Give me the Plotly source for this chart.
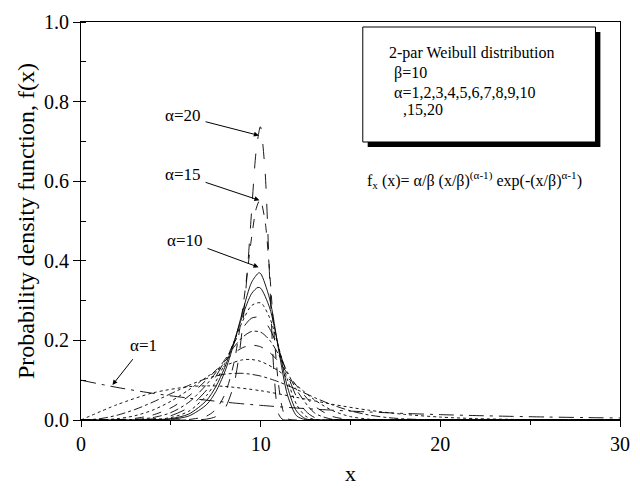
import plotly.graph_objects as go

# ---------------- data ----------------
x_a1 = [0, 2, 4, 6, 8, 10, 12, 14, 16, 18, 20, 22, 24, 26, 28, 30]
y_a1 = [0.1, 0.0819, 0.0670, 0.0549, 0.0449, 0.0368, 0.0301, 0.0247, 0.0202,
        0.0165, 0.0135, 0.0111, 0.0091, 0.0074, 0.0061, 0.0050]

x_a2 = [0, 2, 4, 6, 7, 8, 10, 12, 14, 16, 18, 20, 22, 24, 26, 28, 30]
y_a2 = [0, 0.0384, 0.0682, 0.0837, 0.0858, 0.0844, 0.0736, 0.0569, 0.0394,
        0.0247, 0.0141, 0.0073, 0.0035, 0.0015, 0.0006, 0.0002, 0.0001]

x_a3 = [0, 1, 2, 3, 4, 5, 6, 7, 8, 9, 10, 11, 12, 13, 14, 15, 16, 17, 18, 19, 20, 22, 26, 30]
y_a3 = [0, 0.0030, 0.0119, 0.0263, 0.0450, 0.0662, 0.0870, 0.1043, 0.1151, 0.1172,
        0.1104, 0.0959, 0.0767, 0.0563, 0.0378, 0.0231, 0.0128, 0.0064, 0.0028,
        0.0011, 0.0004, 0, 0, 0]

x_a4 = [0, 1, 2, 3, 4, 5, 6, 7, 8, 9, 9.5, 10, 11, 12, 13, 14, 15, 16, 17, 18, 20, 25, 30]
y_a4 = [0, 0.0004, 0.0032, 0.0107, 0.0250, 0.0470, 0.0759, 0.1079, 0.1360, 0.1513,
        0.1519, 0.1472, 0.1232, 0.0869, 0.0505, 0.0236, 0.0085, 0.0023, 0.0005,
        0.0001, 0, 0, 0]

x_a5 = [0, 2, 3, 4, 5, 6, 7, 8, 8.5, 9, 9.5, 10, 10.5, 11, 12, 13, 14, 15, 16, 18, 20, 25, 30]
y_a5 = [0, 0.0008, 0.0040, 0.0127, 0.0303, 0.0600, 0.1015, 0.1476, 0.1675, 0.1818,
        0.1879, 0.1839, 0.1696, 0.1463, 0.0861, 0.0349, 0.0089, 0.0013, 0.0001,
        0, 0, 0, 0]

x_a6 = [0, 2, 3, 4, 5, 6, 7, 7.5, 8, 8.5, 9, 9.5, 10, 10.5, 11, 11.5, 12, 13, 14, 15, 16, 20, 25, 30]
y_a6 = [0, 0.0002, 0.0015, 0.0061, 0.0185, 0.0445, 0.0897, 0.1192, 0.1513, 0.1826,
        0.2083, 0.2226, 0.2207, 0.2006, 0.1644, 0.1195, 0.0754, 0.0178, 0.0017,
        0.0001, 0, 0, 0, 0]

x_a7 = [0, 3, 4, 5, 6, 7, 7.5, 8, 8.5, 9, 9.5, 10, 10.5, 11, 11.5, 12, 12.5, 13, 14, 15, 20, 25, 30]
y_a7 = [0, 0.0005, 0.0029, 0.0109, 0.0318, 0.0758, 0.1090, 0.1488, 0.1916, 0.2306,
        0.2560, 0.2575, 0.2297, 0.1766, 0.1132, 0.0581, 0.0227, 0.0064, 0.0001,
        0, 0, 0, 0]

x_a8 = [0, 3, 4, 5, 6, 7, 7.5, 8, 8.5, 9, 9.5, 10, 10.5, 11, 11.5, 12, 12.5, 13, 14, 15, 20, 25, 30]
y_a8 = [0, 0.0002, 0.0013, 0.0062, 0.0220, 0.0622, 0.0966, 0.1419, 0.1953, 0.2488,
        0.2878, 0.2943, 0.2569, 0.1827, 0.0999, 0.0389, 0.0098, 0.0014, 0,
        0, 0, 0, 0]

x_a9 = [0, 4, 5, 6, 7, 7.5, 8, 8.5, 9, 9.5, 9.85, 10, 10.5, 11, 11.5, 12, 12.5, 13, 14, 15, 20, 25, 30]
y_a9 = [0, 0.0006, 0.0035, 0.0150, 0.0498, 0.0836, 0.1320, 0.1946, 0.2630, 0.3180,
        0.3332, 0.3311, 0.2819, 0.1826, 0.0817, 0.0222, 0.0031, 0.0002, 0,
        0, 0, 0, 0]

x_a10 = [0, 4, 5, 6, 7, 7.5, 8, 8.5, 9, 9.5, 9.9, 10, 10.5, 11, 11.5, 12, 12.5, 13, 14, 15, 20, 25, 30]
y_a10 = [0, 0.0003, 0.0020, 0.0100, 0.0392, 0.0710, 0.1206, 0.1902, 0.2734, 0.3463,
         0.3698, 0.3679, 0.3044, 0.1763, 0.0616, 0.0106, 0.0007, 0, 0,
         0, 0, 0, 0]

x_a15 = [0, 5, 6, 7, 7.5, 8, 8.5, 9, 9.25, 9.5, 9.75, 9.95, 10, 10.25, 10.5, 10.75,
         11, 11.25, 11.5, 12, 15, 20, 25, 30]
y_a15 = [0, 0.0001, 0.0012, 0.0101, 0.0264, 0.0637, 0.1413, 0.2793, 0.3692, 0.4603,
         0.5310, 0.5530, 0.5518, 0.4981, 0.3715, 0.2142, 0.0874, 0.0224, 0.0031,
         0, 0, 0, 0, 0]

x_a20 = [0, 6, 7, 7.5, 8, 8.5, 8.75, 9, 9.25, 9.5, 9.75, 9.975, 10, 10.25, 10.5, 10.75,
         11, 11.25, 11.5, 12, 15, 20, 25, 30]
y_a20 = [0, 0.0001, 0.0023, 0.0085, 0.0285, 0.0877, 0.1477, 0.2392, 0.3684, 0.5273,
         0.6766, 0.7366, 0.7358, 0.6213, 0.3558, 0.1130, 0.0146, 0.0005, 0,
         0, 0, 0, 0, 0]

alphas = [1, 2, 3, 4, 5, 6, 7, 8, 9, 10, 15, 20]
xs = [x_a1, x_a2, x_a3, x_a4, x_a5, x_a6, x_a7, x_a8, x_a9, x_a10, x_a15, x_a20]
ys = [y_a1, y_a2, y_a3, y_a4, y_a5, y_a6, y_a7, y_a8, y_a9, y_a10, y_a15, y_a20]
dashes = ["longdashdot", "dot", "dashdot", "dot", "dash", "dashdot",
          "longdash", "dot", "solid", "solid", "dash", "longdash"]

x_ticks = [0, 10, 20, 30]
y_ticks = [0.0, 0.2, 0.4, 0.6, 0.8, 1.0]

# label text, label position, arrow head
curve_labels = ["α=20", "α=15", "α=10", "α=1"]
label_pos = [(5.68, 0.764), (5.68, 0.616), (5.79, 0.452), (3.5, 0.188)]
arrow_head = [(9.9, 0.715), (9.93, 0.552), (9.88, 0.384), (1.75, 0.088)]

FONT = "Liberation Serif, Times New Roman, serif"

fig = go.Figure()
for a, x, y, d in zip(alphas, xs, ys, dashes):
    fig.add_trace(go.Scatter(
        x=x, y=y, mode="lines", name=f"α={a}",
        line=dict(color="black", width=0.9, dash=d, shape="spline", smoothing=0.8),
        showlegend=False, hoverinfo="skip"))

annotations = []
for t, (lx, ly), (hx, hy) in zip(curve_labels, label_pos, arrow_head):
    annotations.append(dict(x=hx, y=hy, ax=lx, ay=ly, xref="x", yref="y",
                            axref="x", ayref="y", text=t, showarrow=True,
                            arrowhead=2, arrowsize=1, arrowwidth=1, arrowcolor="black",
                            borderpad=4,
                            font=dict(family=FONT, size=17, color="black")))

box_lines = [("2-par Weibull distribution", 0.568, 0.922),
             ("β=10", 0.577, 0.872),
             ("α=1,2,3,4,5,6,7,8,9,10", 0.577, 0.824),
             (",15,20", 0.594, 0.779)]
for t, bx, by in box_lines:
    annotations.append(dict(x=bx, y=by, xref="paper", yref="paper", text=t,
                            showarrow=False, xanchor="left", yanchor="middle",
                            font=dict(family=FONT, size=16, color="black")))

annotations.append(dict(
    x=0.526, y=0.603, xref="paper", yref="paper", showarrow=False,
    xanchor="left", yanchor="middle",
    text="f<sub>x</sub> (x)= α/β (x/β)<sup>(α-1)</sup> exp(-(x/β)<sup>α-1</sup>)",
    font=dict(family=FONT, size=16, color="black")))

# axis titles
annotations.append(dict(x=-0.102, y=0.5, xref="paper", yref="paper", showarrow=False,
                        text="Probability density function, f(x)", textangle=-90,
                        xanchor="center", yanchor="middle",
                        font=dict(family=FONT, size=24, color="black")))
annotations.append(dict(x=0.5, y=-0.135, xref="paper", yref="paper", showarrow=False,
                        text="x", xanchor="center", yanchor="middle",
                        font=dict(family=FONT, size=22, color="black")))

shapes = [
    dict(type="rect", xref="paper", yref="paper", x0=0.5319, x1=0.9636,
         y0=0.6859, y1=0.9749, fillcolor="black", line=dict(width=0), layer="above"),
    dict(type="rect", xref="paper", yref="paper", x0=0.5228, x1=0.9545,
         y0=0.6985, y1=0.9874, fillcolor="white", line=dict(color="black", width=1),
         layer="above"),
]

fig.update_layout(
    width=640, height=490,
    margin=dict(l=81, r=10, t=22, b=70),
    paper_bgcolor="white", plot_bgcolor="white",
    font=dict(family=FONT, color="black"),
    annotations=annotations, shapes=shapes,
    xaxis=dict(range=[0, 30], tickvals=x_ticks, ticktext=[str(v) for v in x_ticks],
               ticks="outside", ticklen=6, tickwidth=1, tickcolor="black",
               minor=dict(dtick=5, ticks="outside", ticklen=4, tickcolor="black"),
               showline=True, linecolor="black", linewidth=1.2, mirror=True,
               showgrid=False, zeroline=False,
               tickfont=dict(family=FONT, size=20, color="black")),
    yaxis=dict(range=[0, 1.0], tickvals=y_ticks, ticktext=[f"{v:.1f}" for v in y_ticks],
               ticks="outside", ticklen=7, tickwidth=1, tickcolor="black",
               minor=dict(dtick=0.1, ticks="inside", ticklen=5, tickcolor="black"),
               showline=True, linecolor="black", linewidth=1.2, mirror=True,
               showgrid=False, zeroline=False,
               tickfont=dict(family=FONT, size=20, color="black")),
)

fig.write_html("out.html")
